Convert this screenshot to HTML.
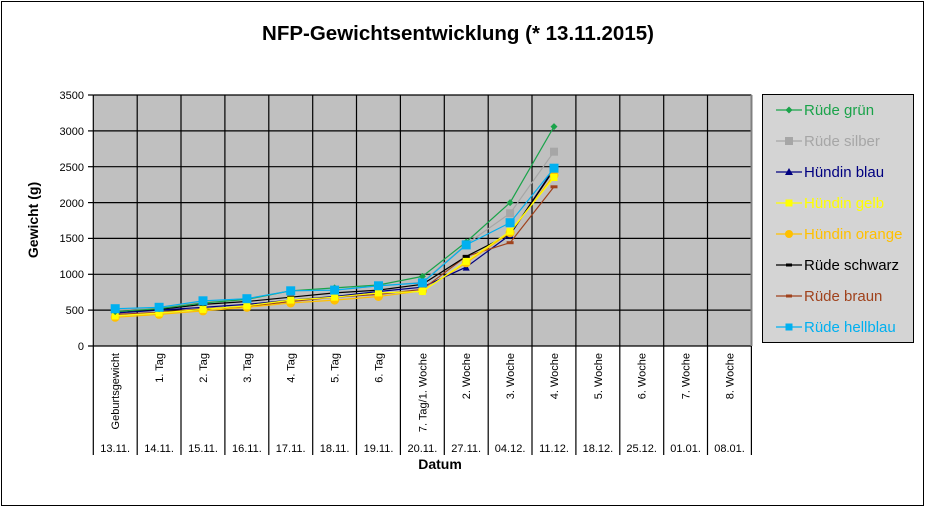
<!DOCTYPE html>
<html><head><meta charset="utf-8"><style>
html,body{margin:0;padding:0;background:#fff}
svg{display:block;font-family:"Liberation Sans",Arial,sans-serif}
</style></head><body>
<svg width="926" height="508" viewBox="0 0 926 508">
<defs>
<marker id="mg" markerWidth="8" markerHeight="8" refX="4" refY="4" markerUnits="userSpaceOnUse"><path d="M4,0.5 L7.5,4 L4,7.5 L0.5,4Z" fill="#1aa34a"/></marker>
<marker id="ms" markerWidth="9" markerHeight="9" refX="4.5" refY="4.5" markerUnits="userSpaceOnUse"><rect x="0.5" y="0.5" width="8" height="8" fill="#a6a6a6"/></marker>
<marker id="mb" markerWidth="8" markerHeight="8" refX="4" refY="4" markerUnits="userSpaceOnUse"><path d="M4,0.5 L7.5,7.5 L0.5,7.5Z" fill="#000080"/></marker>
<marker id="my" markerWidth="8" markerHeight="8" refX="4" refY="4" markerUnits="userSpaceOnUse"><rect x="0.5" y="0.5" width="7" height="7" fill="#ffff00"/></marker>
<marker id="mo" markerWidth="10" markerHeight="10" refX="5" refY="5" markerUnits="userSpaceOnUse"><circle cx="5" cy="5" r="4.5" fill="#ffc000"/></marker>
<marker id="mk" markerWidth="8" markerHeight="4" refX="4" refY="2" markerUnits="userSpaceOnUse"><rect x="0.5" y="0.5" width="7" height="3" fill="#000"/></marker>
<marker id="mr" markerWidth="8" markerHeight="4" refX="4" refY="2" markerUnits="userSpaceOnUse"><rect x="0.5" y="0.5" width="7" height="3" fill="#a0421c"/></marker>
<marker id="mh" markerWidth="10" markerHeight="10" refX="5" refY="5" markerUnits="userSpaceOnUse"><rect x="0.5" y="0.5" width="9" height="9" fill="#00b0f0"/></marker>
</defs>
<rect x="1.5" y="1.5" width="922" height="504" fill="#fff" stroke="#000" stroke-width="1"/>
<text x="458" y="40" font-size="20.5" font-weight="bold" text-anchor="middle">NFP-Gewichtsentwicklung (* 13.11.2015)</text>
<rect x="93.3" y="95" width="658" height="251" fill="#c0c0c0"/>
<g stroke="#000" stroke-width="1.2">
<line x1="93.3" y1="95" x2="751.4" y2="95"/>
<line x1="93.3" y1="130.9" x2="751.4" y2="130.9"/>
<line x1="93.3" y1="166.7" x2="751.4" y2="166.7"/>
<line x1="93.3" y1="202.6" x2="751.4" y2="202.6"/>
<line x1="93.3" y1="238.4" x2="751.4" y2="238.4"/>
<line x1="93.3" y1="274.3" x2="751.4" y2="274.3"/>
<line x1="93.3" y1="310.1" x2="751.4" y2="310.1"/>
<line x1="88" y1="346" x2="751.4" y2="346"/>
<line x1="88" y1="95" x2="93.3" y2="95"/><line x1="88" y1="130.9" x2="93.3" y2="130.9"/><line x1="88" y1="166.7" x2="93.3" y2="166.7"/><line x1="88" y1="202.6" x2="93.3" y2="202.6"/><line x1="88" y1="238.4" x2="93.3" y2="238.4"/><line x1="88" y1="274.3" x2="93.3" y2="274.3"/><line x1="88" y1="310.1" x2="93.3" y2="310.1"/>
<line x1="93.3" y1="95" x2="93.3" y2="455"/>
<line x1="137.2" y1="95" x2="137.2" y2="455"/>
<line x1="181.0" y1="95" x2="181.0" y2="455"/>
<line x1="224.9" y1="95" x2="224.9" y2="455"/>
<line x1="268.8" y1="95" x2="268.8" y2="455"/>
<line x1="312.7" y1="95" x2="312.7" y2="455"/>
<line x1="356.5" y1="95" x2="356.5" y2="455"/>
<line x1="400.4" y1="95" x2="400.4" y2="455"/>
<line x1="444.3" y1="95" x2="444.3" y2="455"/>
<line x1="488.2" y1="95" x2="488.2" y2="455"/>
<line x1="532.0" y1="95" x2="532.0" y2="455"/>
<line x1="575.9" y1="95" x2="575.9" y2="455"/>
<line x1="619.8" y1="95" x2="619.8" y2="455"/>
<line x1="663.7" y1="95" x2="663.7" y2="455"/>
<line x1="707.5" y1="95" x2="707.5" y2="455"/>
<line x1="751.4" y1="95" x2="751.4" y2="455"/>
</g>
<rect x="750.5" y="95" width="2" height="251" fill="#808080"/>
<g font-size="11" text-anchor="end">
<text x="84" y="99">3500</text><text x="84" y="135">3000</text><text x="84" y="171">2500</text><text x="84" y="207">2000</text><text x="84" y="242">1500</text><text x="84" y="278">1000</text><text x="84" y="314">500</text><text x="84" y="350">0</text>
</g>
<text transform="translate(38,220) rotate(-90)" font-size="14" font-weight="bold" text-anchor="middle">Gewicht (g)</text>
<g font-size="11" text-anchor="end">
<text transform="translate(119.2,353) rotate(-90)">Geburtsgewicht</text>
<text transform="translate(163.1,353) rotate(-90)">1. Tag</text>
<text transform="translate(207,353) rotate(-90)">2. Tag</text>
<text transform="translate(250.9,353) rotate(-90)">3. Tag</text>
<text transform="translate(294.7,353) rotate(-90)">4. Tag</text>
<text transform="translate(338.6,353) rotate(-90)">5. Tag</text>
<text transform="translate(382.5,353) rotate(-90)">6. Tag</text>
<text transform="translate(426.4,353) rotate(-90)">7. Tag/1. Woche</text>
<text transform="translate(470.2,353) rotate(-90)">2. Woche</text>
<text transform="translate(514.1,353) rotate(-90)">3. Woche</text>
<text transform="translate(558,353) rotate(-90)">4. Woche</text>
<text transform="translate(601.9,353) rotate(-90)">5. Woche</text>
<text transform="translate(645.7,353) rotate(-90)">6. Woche</text>
<text transform="translate(689.6,353) rotate(-90)">7. Woche</text>
<text transform="translate(733.5,353) rotate(-90)">8. Woche</text>
</g>
<g font-size="11" text-anchor="middle">
<text x="115.2" y="452">13.11.</text><text x="159.1" y="452">14.11.</text><text x="203" y="452">15.11.</text><text x="246.9" y="452">16.11.</text><text x="290.7" y="452">17.11.</text><text x="334.6" y="452">18.11.</text><text x="378.5" y="452">19.11.</text><text x="422.4" y="452">20.11.</text><text x="466.2" y="452">27.11.</text><text x="510.1" y="452">04.12.</text><text x="554" y="452">11.12.</text><text x="597.9" y="452">18.12.</text><text x="641.7" y="452">25.12.</text><text x="685.6" y="452">01.01.</text><text x="729.5" y="452">08.01.</text>
</g>
<text x="440" y="469" font-size="14" font-weight="bold" text-anchor="middle">Datum</text>
<g fill="none" stroke-width="1.2">
<polyline stroke="#a6a6a6" marker-start="url(#ms)" marker-mid="url(#ms)" marker-end="url(#ms)" points="115.2,310.1 159.1,308.0 203,301.5 246.9,298.7 290.7,290.8 334.6,290.1 378.5,285.8 422.4,282.2 466.2,244.2 510.1,213.3 554,151.7"/>
<polyline stroke="#000080" marker-start="url(#mb)" marker-mid="url(#mb)" marker-end="url(#mb)" points="115.2,313.0 159.1,310.1 203,307.3 246.9,304.4 290.7,300.1 334.6,296.5 378.5,291.5 422.4,287.2 466.2,267.1 510.1,234.8 554,168.2"/>
<polyline stroke="#a0421c" marker-start="url(#mr)" marker-mid="url(#mr)" marker-end="url(#mr)" points="115.2,314.4 159.1,312.3 203,308.7 246.9,306.6 290.7,301.5 334.6,297.2 378.5,294.4 422.4,289.3 466.2,256.4 510.1,242.7 554,186.8"/>
<polyline stroke="#000" marker-start="url(#mk)" marker-mid="url(#mk)" marker-end="url(#mk)" points="115.2,311.6 159.1,309.4 203,304.4 246.9,301.5 290.7,297.2 334.6,292.9 378.5,290.1 422.4,284.3 466.2,256.4 510.1,234.1 554,169.6"/>
<polyline stroke="#ffc000" marker-start="url(#mo)" marker-mid="url(#mo)" marker-end="url(#mo)" points="115.2,317.3 159.1,314.4 203,310.9 246.9,307.3 290.7,303.0 334.6,300.1 378.5,296.5 422.4,290.8 466.2,262.8 510.1,232.7 554,175.3"/>
<polyline stroke="#ffff00" marker-start="url(#my)" marker-mid="url(#my)" marker-end="url(#my)" points="115.2,315.9 159.1,313.0 203,309.4 246.9,305.8 290.7,300.1 334.6,297.2 378.5,292.9 422.4,291.5 466.2,261.4 510.1,231.3 554,177.5"/>
<polyline stroke="#1aa34a" marker-start="url(#mg)" marker-mid="url(#mg)" marker-end="url(#mg)" points="115.2,311.6 159.1,308.7 203,303.0 246.9,299.4 290.7,290.8 334.6,287.9 378.5,285.0 422.4,276.4 466.2,242.0 510.1,202.6 554,126.6"/>
<polyline stroke="#00b0f0" marker-start="url(#mh)" marker-mid="url(#mh)" marker-end="url(#mh)" points="115.2,308.7 159.1,307.3 203,300.8 246.9,298.7 290.7,290.8 334.6,290.1 378.5,285.8 422.4,282.9 466.2,244.9 510.1,222.7 554,168.2"/>
</g>
<rect x="762.5" y="94.5" width="151" height="248" fill="#d4d4d4" stroke="#000" stroke-width="1"/>
<g stroke-width="1.2" font-size="15">
<line x1="776" y1="110" x2="802" y2="110" stroke="#1aa34a"/><path d="M789,106.5 L792.5,110 L789,113.5 L785.5,110Z" fill="#1aa34a"/>
<text x="804" y="115" fill="#1aa34a">Rüde grün</text>
<line x1="776" y1="141" x2="802" y2="141" stroke="#a6a6a6"/><rect x="785" y="137" width="8" height="8" fill="#a6a6a6"/>
<text x="804" y="146" fill="#a6a6a6">Rüde silber</text>
<line x1="776" y1="172" x2="802" y2="172" stroke="#000080"/><path d="M789,168 L793,175 L785,175Z" fill="#000080"/>
<text x="804" y="177" fill="#000080">Hündin blau</text>
<line x1="776" y1="203" x2="802" y2="203" stroke="#ffff00"/><rect x="785.5" y="199.5" width="7" height="7" fill="#ffff00"/>
<text x="804" y="208" fill="#ffff00">Hündin gelb</text>
<line x1="776" y1="234" x2="802" y2="234" stroke="#ffc000"/><circle cx="789" cy="234" r="4" fill="#ffc000"/>
<text x="804" y="239" fill="#ffc000">Hündin orange</text>
<line x1="776" y1="265" x2="802" y2="265" stroke="#000"/><rect x="786" y="263.5" width="6" height="3" fill="#000"/>
<text x="804" y="270" fill="#000">Rüde schwarz</text>
<line x1="776" y1="296" x2="802" y2="296" stroke="#a0421c"/><rect x="786" y="294.5" width="6" height="3" fill="#a0421c"/>
<text x="804" y="301" fill="#a0421c">Rüde braun</text>
<line x1="776" y1="327" x2="802" y2="327" stroke="#00b0f0"/><rect x="785.5" y="323.5" width="7" height="7" fill="#00b0f0"/>
<text x="804" y="332" fill="#00b0f0">Rüde hellblau</text>
</g>
</svg>
</body></html>
